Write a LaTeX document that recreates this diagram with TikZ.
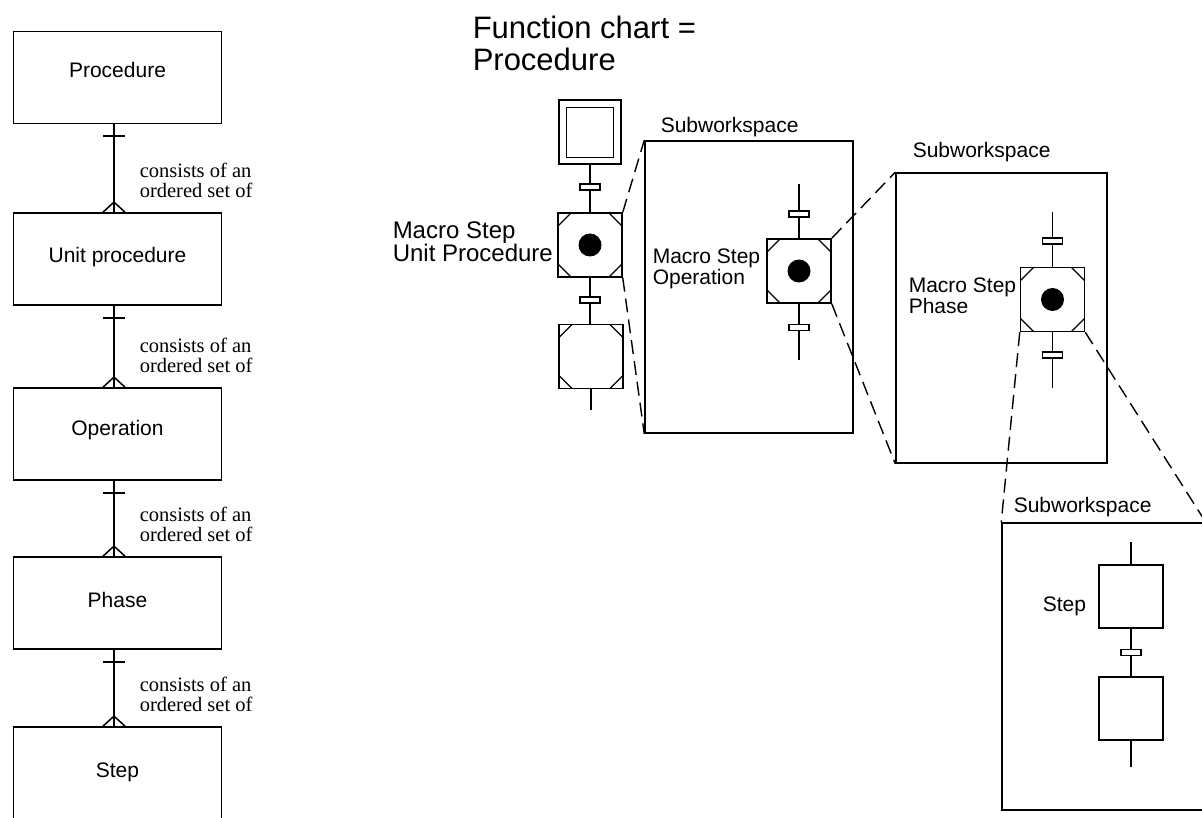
\documentclass[tikz,border=0pt]{standalone}
\usepackage{fontspec}
\setmainfont{Liberation Serif}
\setsansfont{Liberation Sans}
\usetikzlibrary{calc}
\begin{document}
\begin{tikzpicture}[x=1pt,y=-1pt, line width=1.5pt,
  ebox/.style={draw, line width=1.7pt, minimum width=208pt, minimum height=92pt, inner sep=0pt},
  etext/.style={font=\sffamily\fontsize{21}{24}\selectfont, anchor=base, inner sep=0pt},
  rel/.style={font=\rmfamily\fontsize{20.5}{20}\selectfont, align=left, anchor=north west, inner sep=0pt},
  lbl/.style={font=\sffamily\fontsize{21}{21}\selectfont, align=left, anchor=north west, inner sep=0pt},
  swbox/.style={draw, inner sep=0pt},
  plainstep/.style={draw, minimum width=64pt, minimum height=63pt, inner sep=0pt},
  mstep/.style={draw, minimum width=64pt, minimum height=64pt, inner sep=0pt, path picture={
    \draw[line width=1.2pt] ($(path picture bounding box.north west)+(13,0)$) -- ($(path picture bounding box.north west)+(0,13)$);
    \draw[line width=1.2pt] ($(path picture bounding box.north east)+(-13,0)$) -- ($(path picture bounding box.north east)+(0,13)$);
    \draw[line width=1.2pt] ($(path picture bounding box.south west)+(13,0)$) -- ($(path picture bounding box.south west)+(0,-13)$);
    \draw[line width=1.2pt] ($(path picture bounding box.south east)+(-13,0)$) -- ($(path picture bounding box.south east)+(0,-13)$);
  }},
  dot/.style={circle, fill=black, minimum size=23pt, inner sep=0pt},
  trans/.style={draw, fill=white, line width=1.3pt, minimum width=20pt, minimum height=6pt, inner sep=0pt},
  dashedl/.style={dash pattern=on 14pt off 7pt, line width=1.4pt}
]
\useasboundingbox (0,0) rectangle (1202,818);
\clip (0,0) rectangle (1202,818);

% ---------- left column ----------
\node[ebox] (proc)  at (117.5,77.5) {};
\node[ebox] (unitp) at (117.5,259) {};
\node[ebox] (oper)  at (117.5,434) {};
\node[ebox] (phase) at (117.5,603) {};
\node[ebox] (stepE) at (117.5,773) {};
\node[etext] (procT)  at (117.5,78)  {Procedure};
\node[etext] (unitpT) at (117.5,263) {Unit procedure};
\node[etext] (operT)  at (117.5,435) {Operation};
\node[etext] (phaseT) at (117.5,607) {Phase};
\node[etext] (stepET) at (117.5,777) {Step};
\coordinate (cx) at (114,0);
\foreach \a/\b in {proc/unitp, unitp/oper, oper/phase, phase/stepE} {
  \draw (\a.south -| cx) -- (\b.north -| cx);
  \draw[line width=1.7pt] ($(\a.south -| cx)+(-11,12)$) -- ++(22,0);
  \draw ($(\b.north -| cx)+(-11,0)$) -- ($(\b.north -| cx)+(0,-10)$) -- ($(\b.north -| cx)+(11,0)$);
}
\node[rel] (r1) at (139,162) {consists of an\\ordered set of};
\node[rel] (r2) at (139,337) {consists of an\\ordered set of};
\node[rel] (r3) at (139,506) {consists of an\\ordered set of};
\node[rel] (r4) at (139,676) {consists of an\\ordered set of};

% ---------- function chart ----------
\node[lbl, font=\sffamily\fontsize{31}{32}\selectfont] (title) at (472,15) {Function chart =\\Procedure};

\node[draw, minimum width=62pt, minimum height=64pt, inner sep=0pt] (s0) at (590,132) {};
\node[draw, minimum width=47pt, minimum height=50pt, inner sep=0pt] (s0i) at (590,132.5) {};
\node[trans] (t1) at (590,187) {};
\node[mstep] (m1) at (590,245) {};
\node[dot] (d1) at (m1) {};
\node[trans] (t2) at (590,300) {};
\node[mstep] (m2) at (591,356.5) {};
\coordinate (e1) at (591,410);
\draw (s0.south) -- (t1.north) (t1.south) -- (m1.north) (m1.south) -- (t2.north) (t2.south) -- (m2.north -| t2) (m2.south) -- (e1);
\node[lbl, font=\sffamily\fontsize{24}{20}\selectfont] (m1L) at (392,221) {Macro Step\\Unit Procedure};

% ---------- subworkspace 1 ----------
\node[swbox, minimum width=208pt, minimum height=292pt] (sw1) at (749,287) {};
\node[lbl] (sw1L) at (660,117) {Subworkspace};
\coordinate (a3) at (799,184);
\node[trans] (t3) at (799,214) {};
\node[mstep] (m3) at (799,271) {};
\node[dot] (d3) at (m3) {};
\node[trans] (t4) at (799,327.5) {};
\coordinate (b3) at (799,360);
\draw (a3) -- (t3.north) (t3.south) -- (m3.north) (m3.south) -- (t4.north) (t4.south) -- (b3);
\node[lbl] (m3L) at (652,248) {Macro Step\\Operation};
\draw[dashedl] (m1.north east) -- (sw1.north west) (m1.south east) -- (sw1.south west);

% ---------- subworkspace 2 ----------
\node[swbox, minimum width=211pt, minimum height=290pt] (sw2) at (1001.5,318) {};
\node[lbl] (sw2L) at (912,142) {Subworkspace};
\coordinate (a4) at (1052.5,212);
\node[trans] (t5) at (1052.5,241) {};
\node[mstep] (m4) at (1052.5,299.5) {};
\node[dot] (d4) at (m4) {};
\node[trans] (t6) at (1052.5,355) {};
\coordinate (b4) at (1052.5,388);
\draw (a4) -- (t5.north) (t5.south) -- (m4.north) (m4.south) -- (t6.north) (t6.south) -- (b4);
\node[lbl, font=\sffamily\fontsize{21}{21}\selectfont] (m4L) at (908,277) {Macro Step\\Phase};
\draw[dashedl] (m3.north east) -- (sw2.north west) (m3.south east) -- (sw2.south west);

% ---------- subworkspace 3 ----------
\node[swbox, minimum width=203pt, minimum height=287pt] (sw3) at (1103.5,666.5) {};
\node[lbl] (sw3L) at (1013,497) {Subworkspace};
\coordinate (a5) at (1131,542);
\node[plainstep] (st1) at (1131,596.5) {};
\node[trans] (t7) at (1131,652.5) {};
\node[plainstep] (st2) at (1131,708.5) {};
\coordinate (b5) at (1131,767);
\draw (a5) -- (st1.north) (st1.south) -- (t7.north) (t7.south) -- (st2.north) (st2.south) -- (b5);
\node[lbl] (st1L) at (1042,596) {Step};
\draw[dashedl] (m4.south west) -- (sw3.north west) (m4.south east) -- (sw3.north east);
\end{tikzpicture}
\end{document}
